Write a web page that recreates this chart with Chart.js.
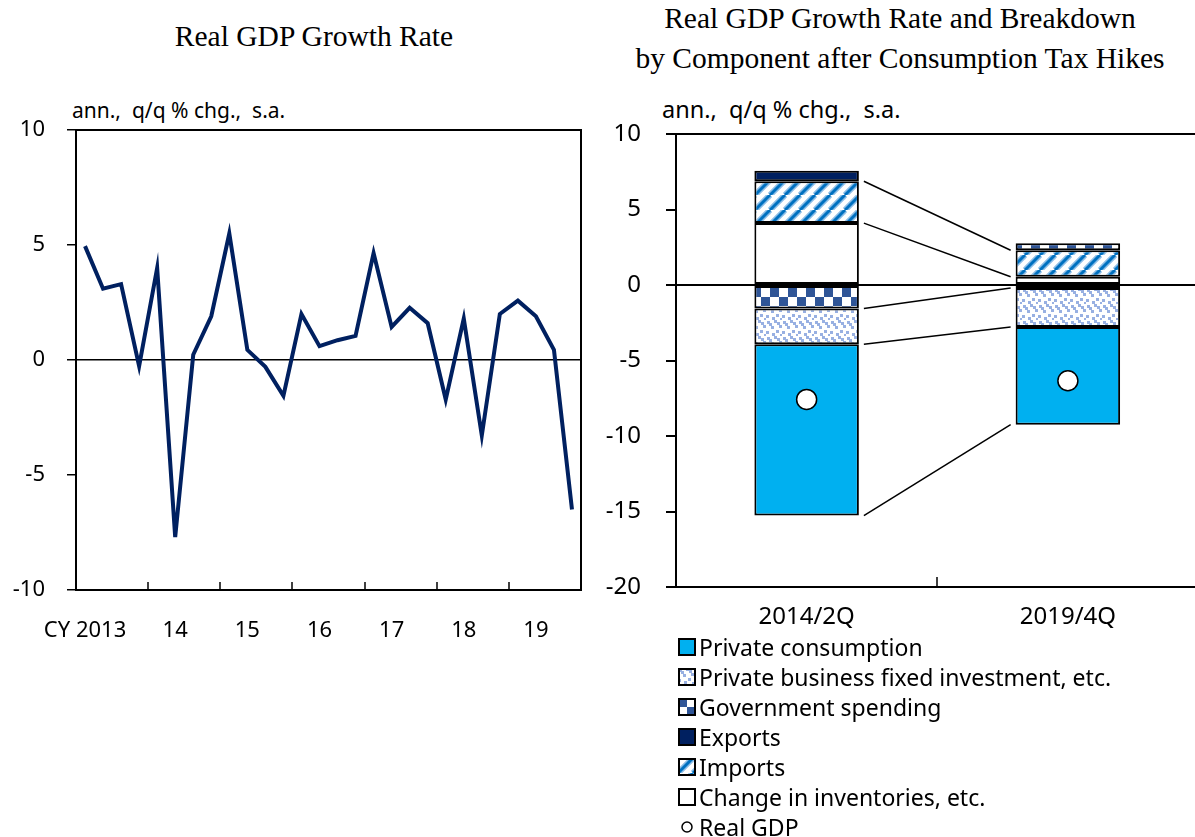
<!DOCTYPE html>
<html>
<head>
<meta charset="utf-8">
<script src="https://cdn.jsdelivr.net/npm/chart.js@4.4.0/dist/chart.umd.min.js"></script>
<style>
body{margin:0;width:1195px;height:837px;overflow:hidden;background:#fff;position:relative;font-family:"Noto Sans",sans-serif;color:#000;}
.title{position:absolute;font-family:"Liberation Serif","Times New Roman",serif;font-size:29.5px;white-space:nowrap;text-align:center;}
.unit{position:absolute;white-space:nowrap;}
#legend{position:absolute;left:678px;top:632px;font-size:23px;}
#legend .item{height:30px;display:flex;align-items:center;white-space:nowrap;}
#legend canvas{margin-right:3px;}
</style>
</head>
<body>
<div class="title" style="left:0;width:628px;top:20px;">Real GDP Growth Rate</div>
<div class="title" style="left:600px;width:600px;top:-2px;line-height:40px;">Real GDP Growth Rate and Breakdown<br>by Component after Consumption Tax Hikes</div>
<div class="unit" style="left:72px;top:96px;font-size:21px;">ann.,&nbsp; q/q % chg.,&nbsp; s.a.</div>
<div class="unit" style="left:662px;top:93px;font-size:23.5px;">ann.,&nbsp; q/q % chg.,&nbsp; s.a.</div>
<div style="position:absolute;left:0;top:0;"><canvas id="left" width="600" height="660"></canvas></div>
<div style="position:absolute;left:590px;top:0;"><canvas id="right" width="620" height="640"></canvas></div>
<div id="legend"></div>
<script>
// ---------------- data: left chart ----------------
const quarterLabels = [
 '2013Q1','2013Q2','2013Q3','2013Q4','2014Q1','2014Q2','2014Q3','2014Q4',
 '2015Q1','2015Q2','2015Q3','2015Q4','2016Q1','2016Q2','2016Q3','2016Q4',
 '2017Q1','2017Q2','2017Q3','2017Q4','2018Q1','2018Q2','2018Q3','2018Q4',
 '2019Q1','2019Q2','2019Q3','2019Q4'];
const gdpGrowth = [4.95,3.1,3.3,-0.27,4.0,-7.7,0.23,1.9,5.5,0.44,-0.3,-1.56,2.0,0.6,0.86,1.05,
 4.65,1.44,2.27,1.6,-1.72,1.8,-3.28,2.0,2.58,1.9,0.44,-6.5];
const yearTicks = ['CY 2013','14','15','16','17','18','19'];

// ---------------- data: right chart ----------------
const periods = ['2014/2Q','2019/4Q'];
const consumption = [-11.35,-6.47];
const businessInv = [-2.36,-2.58];
const government = [-1.56,0.46];
const exportsC = [0.69,-0.2];
const importsC = [2.77,1.75];
const inventories = [4.1,0.55];
const realGDP = [-7.58,-6.34];

// ---------------- patterns ----------------
function makePattern(w, h, draw){
  const c = document.createElement('canvas');
  c.width = w; c.height = h;
  const g = c.getContext('2d');
  g.fillStyle = '#fff'; g.fillRect(0,0,w,h);
  draw(g);
  return g.createPattern(c, 'repeat');
}
const dotPattern = makePattern(16,16,g=>{
  g.fillStyle = '#98b0e2';
  [[1,1],[8,0],[13,5],[5,6],[10,10],[0,11],[6,13],[14,14],[3,3],[11,2]].forEach(p=>g.fillRect(p[0],p[1],3,3));
});
const checkPattern = makePattern(18,18,g=>{
  g.fillStyle = '#2f5597';
  g.fillRect(0,0,9,9); g.fillRect(9,9,9,9);
});
const stripePattern = makePattern(15,15,g=>{
  [[6,'#8cbde6'],[3,'#0070c0']].forEach(s=>{
    g.strokeStyle = s[1]; g.lineWidth = s[0];
    [-15,0,15].forEach(x=>{ g.beginPath(); g.moveTo(x,15); g.lineTo(x+15,0); g.stroke(); });
  });
});

// ---------------- left chart ----------------
const leftFrame = {
  id:'leftFrame',
  afterDraw(chart){
    const {ctx, chartArea:a, scales:{x}} = chart;
    ctx.save();
    ctx.strokeStyle = '#000'; ctx.lineWidth = 2;
    ctx.strokeRect(a.left, a.top, a.right-a.left, a.bottom-a.top);
    ctx.lineWidth = 1.5;
    for(let i=4;i<quarterLabels.length;i+=4){
      const px = Math.round((x.getPixelForValue(i-1)+x.getPixelForValue(i))/2);
      ctx.beginPath(); ctx.moveTo(px, a.bottom); ctx.lineTo(px, a.bottom-8); ctx.stroke();
    }
    ctx.restore();
  }
};

new Chart(document.getElementById('left'), {
  type:'line',
  data:{
    labels: quarterLabels,
    datasets:[{
      data: gdpGrowth,
      borderColor:'#002060',
      borderWidth:4,
      pointRadius:0,
      tension:0,
      borderJoinStyle:'miter'
    }]
  },
  options:{
    responsive:false,
    animation:false,
    layout:{padding:{left:0,top:130,right:19,bottom:0}},
    plugins:{legend:{display:false},tooltip:{enabled:false}},
    scales:{
      x:{
        offset:true,
        grid:{display:false, offset:true},
        border:{display:false},
        afterFit(s){ s.height = 70; },
        ticks:{
          autoSkip:false, maxRotation:0, padding:20,
          color:'#000', font:{family:'Noto Sans', size:22},
          callback(v, i){
            if(i===0) return yearTicks[0];
            if(i%4===1 && i>1) return yearTicks[(i-1)/4];
            return '';
          }
        }
      },
      y:{
        min:-10, max:10,
        afterFit(s){ s.width = 76; },
        border:{display:false},
        grid:{
          color:c=> c.tick.value===0 ? '#000' : 'rgba(0,0,0,0)',
          lineWidth:1.5,
          tickColor:'#000', tickLength:9
        },
        ticks:{stepSize:5, padding:22, color:'#000', font:{family:'Noto Sans', size:22}}
      }
    }
  },
  plugins:[leftFrame]
});

// ---------------- right chart ----------------
const barOpts = {borderColor:'#000', borderWidth:2, borderSkipped:false, order:1,
  barPercentage:0.4, categoryPercentage:1};

const seriesLines = {
  id:'seriesLines',
  afterDatasetsDraw(chart){
    const {ctx, chartArea:a, scales:{x}} = chart;
    const m = k => chart.getDatasetMeta(k).data;
    // dataset indexes: 0 inventories, 1 imports, 2 government, 3 exports, 4 business inv, 5 consumption
    const pairs = [
      [m(1)[0].y, m(1)[1].y],
      [m(0)[0].y, m(0)[1].y],
      [m(4)[0].base, m(4)[1].base],
      [m(4)[0].y, m(4)[1].y],
      [m(5)[0].y, m(5)[1].y]
    ];
    const b0 = m(0)[0], b1 = m(0)[1];
    const x0 = b0.x + b0.width/2 + 5, x1 = b1.x - b1.width/2 - 5;
    ctx.save();
    ctx.strokeStyle = '#000'; ctx.lineWidth = 1.5;
    pairs.forEach(p=>{ ctx.beginPath(); ctx.moveTo(x0,p[0]); ctx.lineTo(x1,p[1]); ctx.stroke(); });
    // inward tick between categories
    const px = Math.round((x.getPixelForValue(0)+x.getPixelForValue(1))/2);
    ctx.beginPath(); ctx.moveTo(px,a.bottom); ctx.lineTo(px,a.bottom-10); ctx.stroke();
    ctx.restore();
  }
};

const rightChart = new Chart(document.getElementById('right'), {
  data:{
    labels: periods,
    datasets:[
      Object.assign({type:'bar', label:'Change in inventories, etc.', data:inventories, backgroundColor:'#fff'}, barOpts),
      Object.assign({type:'bar', label:'Imports', data:importsC, backgroundColor:stripePattern}, barOpts),
      Object.assign({type:'bar', label:'Government spending', data:government, backgroundColor:checkPattern}, barOpts),
      Object.assign({type:'bar', label:'Exports', data:exportsC, backgroundColor:'#002060'}, barOpts),
      Object.assign({type:'bar', label:'Private business fixed investment, etc.', data:businessInv, backgroundColor:dotPattern}, barOpts),
      Object.assign({type:'bar', label:'Private consumption', data:consumption, backgroundColor:'#00b0f0'}, barOpts),
      {type:'line', label:'Real GDP', data:realGDP, stack:'gdp', order:0, showLine:false,
       pointRadius:10, pointBackgroundColor:'#fff', pointBorderColor:'#000', pointBorderWidth:1.5}
    ]
  },
  options:{
    responsive:false,
    animation:false,
    layout:{padding:{left:0,top:134,right:6,bottom:0}},
    plugins:{legend:{display:false},tooltip:{enabled:false}},
    scales:{
      x:{
        stacked:true,
        grid:{display:false},
        border:{color:'#000', width:2},
        afterFit(s){ s.height = 53; },
        ticks:{padding:8, color:'#000', font:{family:'Noto Sans', size:24}}
      },
      y:{
        stacked:true,
        min:-20, max:10,
        afterFit(s){ s.width = 86; },
        border:{color:'#000', width:2},
        grid:{
          color:c=> (c.tick.value===0 || c.tick.value===10) ? '#000' : 'rgba(0,0,0,0)',
          lineWidth:2,
          tickColor:'#000', tickLength:10
        },
        ticks:{stepSize:5, padding:25, color:'#000', font:{family:'Noto Sans', size:24}}
      }
    }
  },
  plugins:[seriesLines]
});

// ---------------- legend ----------------
const legendOrder = [5,4,2,3,1,0,6];
const legend = document.getElementById('legend');
legendOrder.forEach(k=>{
  const ds = rightChart.data.datasets[k];
  const row = document.createElement('div');
  row.className = 'item';
  const sw = document.createElement('canvas');
  sw.width = 18; sw.height = 18;
  const g = sw.getContext('2d');
  if(ds.type==='line'){
    g.beginPath(); g.arc(9,9,5,0,Math.PI*2);
    g.fillStyle='#fff'; g.fill(); g.lineWidth=1.5; g.strokeStyle='#000'; g.stroke();
  } else {
    g.fillStyle = ds.backgroundColor; g.fillRect(1,1,16,16);
    g.lineWidth = 2; g.strokeStyle = '#000'; g.strokeRect(1,1,16,16);
  }
  row.appendChild(sw);
  const t = document.createElement('span');
  t.textContent = ds.label;
  row.appendChild(t);
  legend.appendChild(row);
});
</script>
</body>
</html>
